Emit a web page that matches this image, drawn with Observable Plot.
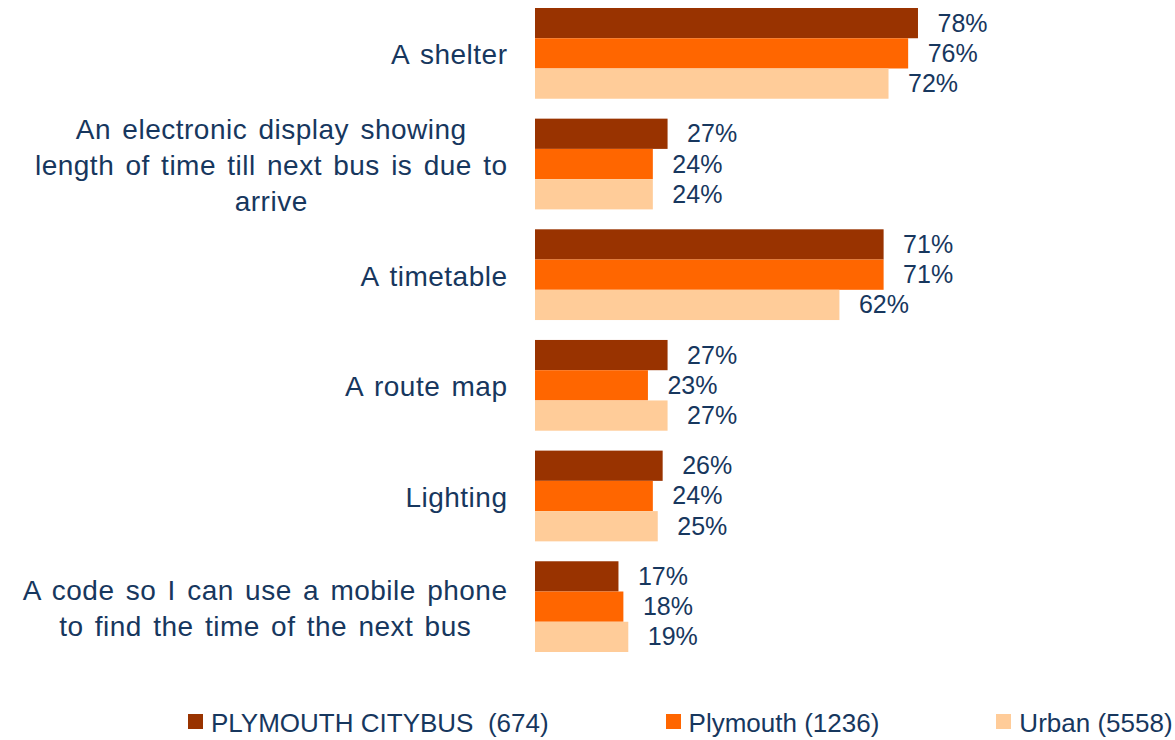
<!DOCTYPE html>
<html>
<head>
<meta charset="utf-8">
<script src="https://cdn.jsdelivr.net/npm/d3@7"></script>
<script src="https://cdn.jsdelivr.net/npm/@observablehq/plot@0.6"></script>
<style>
  html, body { margin: 0; padding: 0; background: #fff; }
  body { width: 1175px; height: 740px; position: relative; overflow: hidden; font-family: "Liberation Sans", Arial, sans-serif; }
  #legend { position: absolute; left: 188px; top: 708px; display: flex; gap: 117px; align-items: center; color: #17375E; font-size: 26px; white-space: pre; }
  #legend .item { display: flex; align-items: center; }
  #legend .sw { width: 15px; height: 15px; margin-right: 8px; margin-top: -4px; }
</style>
</head>
<body>
<div id="chart"></div>
<div id="legend"></div>
<script>
const categories = [
  "A shelter",
  "An electronic display showing\nlength of time till next bus is due to\narrive",
  "A timetable",
  "A route map",
  "Lighting",
  "A code so I can use a mobile phone\nto find the time of the next bus"
];
const seriesNames = ["PLYMOUTH CITYBUS (674)", "Plymouth (1236)", "Urban (5558)"];
const legendLabels = ["PLYMOUTH CITYBUS  (674)", "Plymouth (1236)", "Urban (5558)"];
const seriesColors = ["#993300", "#FF6600", "#FFCC99"];
const citybus = [78, 27, 71, 27, 26, 17];
const plymouth = [76, 24, 71, 23, 24, 18];
const urban = [72, 24, 62, 27, 25, 19];

const seriesValues = [citybus, plymouth, urban];
const data = [];
categories.forEach((c, i) => {
  seriesNames.forEach((s, j) => {
    data.push({category: c, series: s, value: seriesValues[j][i]});
  });
});

const navy = "#17375E";

const chart = Plot.plot({
  width: 1175,
  height: 700,
  marginLeft: 535,
  marginRight: 149,
  marginTop: 8,
  marginBottom: 48,
  style: {fontFamily: "'Liberation Sans', Arial, sans-serif", background: "#fff"},
  x: {domain: [0, 100], axis: null},
  y: {domain: seriesNames, padding: 0, axis: null, round: false},
  fy: {domain: categories, paddingInner: 0.18, paddingOuter: 0, axis: null, round: false},
  color: {domain: seriesNames, range: seriesColors},
  marks: [
    Plot.barX(data, {x: "value", y: "series", fy: "category", fill: "series"}),
    Plot.text(data, {
      x: "value", y: "series", fy: "category",
      text: d => d.value + "%",
      dx: 19, textAnchor: "start", fontSize: 25, fill: navy
    }),
    Plot.text(categories, {
      fy: d => d,
      text: d => d,
      frameAnchor: "left",
      dx: -28,
      dy: -1,
      textAnchor: "end",
      lineHeight: 1.286,
      fontSize: 28,
      fill: navy
    })
  ]
});

document.getElementById("chart").append(chart);

// identify category label texts and center multi-line ones within a right-aligned block
const flat = new Set(categories.map(c => c.replace(/\n/g, "")));
chart.querySelectorAll("text").forEach(t => {
  if (!flat.has(t.textContent)) return;
  t.style.wordSpacing = "3px";
  t.style.letterSpacing = "0.5px";
  const tspans = t.querySelectorAll("tspan");
  if (tspans.length > 1) {
    const w = t.getBBox().width;
    t.setAttribute("text-anchor", "middle");
    t.style.textAnchor = "middle";
    tspans.forEach(ts => ts.setAttribute("x", -w / 2));
  }
});

const legend = document.getElementById("legend");
legendLabels.forEach((s, j) => {
  const item = document.createElement("div");
  item.className = "item";
  const sw = document.createElement("div");
  sw.className = "sw";
  sw.style.background = seriesColors[j];
  const lab = document.createElement("span");
  lab.textContent = s;
  item.append(sw, lab);
  legend.append(item);
});
</script>
</body>
</html>
